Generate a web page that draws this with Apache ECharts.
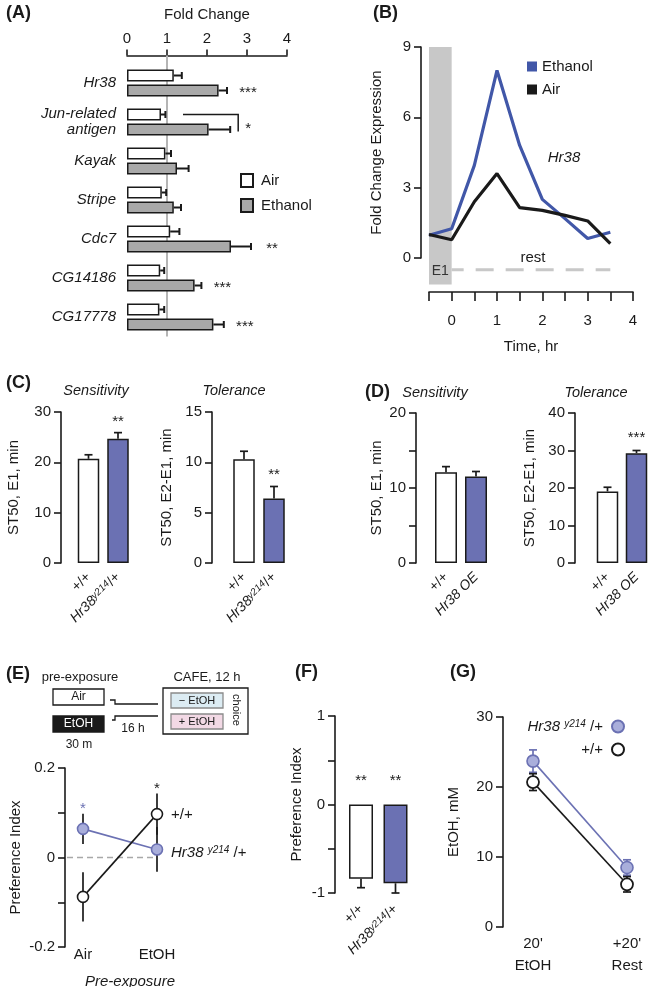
<!DOCTYPE html>
<html><head><meta charset="utf-8">
<script src="https://cdn.jsdelivr.net/npm/echarts@6/dist/echarts.min.js"></script>
<style>html,body{margin:0;padding:0;background:#fff}#chart{width:648px;height:987px}</style>
</head><body><div id="chart"></div>
<script>
// ---------------- DATA ----------------
// (A) qPCR fold change
const geneNames = ['Hr38', 'Jun-related\nantigen', 'Kayak', 'Stripe', 'Cdc7', 'CG14186', 'CG17778'];
const airFold = [1.17, 0.85, 0.96, 0.87, 1.08, 0.83, 0.81];
const airFoldErr = [0.20, 0.11, 0.14, 0.11, 0.23, 0.10, 0.12];
const ethanolFold = [2.29, 2.04, 1.25, 1.17, 2.60, 1.69, 2.16];
const ethanolFoldErr = [0.21, 0.54, 0.29, 0.18, 0.50, 0.17, 0.26];
const ethanolSig = ['***', '*', '', '', '**', '***', '***'];
const junBracket = [1, 1.4, 2.78];           // gene index, from, to (fold change)
const foldTicks = [0, 1, 2, 3, 4];
const foldBaseline = 1;
// (B) Hr38 time course
const timeHr = [-0.5, 0, 0.5, 1, 1.5, 2, 2.5, 3, 3.5];
const ethanolExpr = [0.97, 1.25, 3.95, 8.0, 4.8, 2.5, 1.68, 0.83, 1.1];
const airExpr = [1.0, 0.78, 2.4, 3.6, 2.15, 2.03, 1.82, 1.58, 0.61];
const exposureWindow = [-0.5, 0];
const restWindow = [0, 3.5];
const exprTicks = [0, 3, 6, 9];
const timeTicks = [-0.5, 4];
// (C) Hr38 y214 mutants
const genoC = ['+/+', 'Hr38^y214/+'];
const sensC = [20.7, 24.7], sensCErr = [0.8, 1.2], sensCSig = ['', '**'];
const tolC = [10.3, 6.4], tolCErr = [0.8, 1.2], tolCSig = ['', '**'];
// (D) Hr38 overexpression
const genoD = ['+/+', 'Hr38 OE'];
const sensD = [12.1, 11.55], sensDErr = [0.75, 0.65], sensDSig = ['', ''];
const tolD = [19.1, 29.3], tolDErr = [1.1, 0.7], tolDSig = ['', '***'];
// (E) preference after pre-exposure
const preExposure = ['Air', 'EtOH'];
const prefWT = [-0.088, 0.097], prefWTErr = [0.055, 0.046], prefWTSig = ['', '*'];
const prefHr = [0.064, 0.018], prefHrErr = [0.034, 0.05], prefHrSig = ['*', ''];
// (F) naive preference
const genoF = ['+/+', 'Hr38^y214/+'];
const prefF = [-0.84, -0.89], prefFErr = [0.10, 0.11], prefFSig = ['**', '**'];
// (G) internal ethanol
const etohTimes = ["20'\nEtOH", "+20'\nRest"];
const etohHr = [23.7, 8.5], etohHrErr = [1.6, 1.1];
const etohWT = [20.7, 6.1], etohWTErr = [1.2, 1.1];

// ---------------- STYLE ----------------
const FONT = 'Liberation Sans, Arial, Helvetica, sans-serif';
const INK = '#1a1a1a';
const BLUE_BAR = '#6b71b3';
const BLUE_LINE = '#4157a8';
const BLUE_DOT = '#a9aedb';
const GRAY_BAR = '#a9a9a9';
const BAND = '#c8c8c8';

function richSet(size) {
  return {
    n: {fontSize: size, color: INK, fontFamily: FONT},
    it: {fontSize: size, color: INK, fontFamily: FONT, fontStyle: 'italic'},
    sup: {fontSize: Math.round(size * 0.68), color: INK, fontFamily: FONT, fontStyle: 'italic', verticalAlign: 'top'}
  };
}
function genoRich(s, spaced) {
  const sp = spaced ? ' ' : '';
  if (s.indexOf('^') >= 0) {
    const parts = s.split('^');
    const m = parts[1].match(/^(\w+)(.*)$/);
    return '{it|' + parts[0] + sp + '}{sup|' + m[1] + '}{n|' + sp + m[2] + '}';
  }
  if (s.indexOf('Hr38') === 0) return '{it|' + s + '}';
  return '{n|' + s + '}';
}

const grid = [], xAxis = [], yAxis = [], series = [], legend = [], graphic = [];

function addText(x, y, text, o) {
  o = o || {};
  graphic.push({type: 'text', x: x, y: y, rotation: o.rotation || 0, silent: true, z: 100,
    style: {text: text, fill: o.color || INK, fontFamily: FONT, fontSize: o.size || 15,
      fontStyle: o.italic ? 'italic' : 'normal', fontWeight: o.bold ? 'bold' : 'normal',
      align: o.align || 'center', verticalAlign: o.valign || 'middle', rich: o.rich}});
}
function addRect(x, y, w, h, fill, stroke) {
  graphic.push({type: 'rect', silent: true, shape: {x: x, y: y, width: w, height: h},
    style: {fill: fill, stroke: stroke, lineWidth: 1.3}});
}
function addPoly(points) {
  graphic.push({type: 'polyline', silent: true, shape: {points: points}, style: {stroke: INK, lineWidth: 1.3, fill: null}});
}

function valAxis(gi, o) {
  return {gridIndex: gi, type: 'value', min: o.min, max: o.max, interval: o.interval, offset: o.offset || 0,
    axisLine: {show: true, onZero: false, lineStyle: {color: INK, width: 1.6}},
    axisTick: {show: true, length: 7, lineStyle: {color: INK, width: 1.6}},
    axisLabel: {fontSize: 15, color: INK, fontFamily: FONT, margin: 10, formatter: o.fmt, showMinLabel: true, showMaxLabel: true},
    splitLine: {show: false},
    name: o.name, nameLocation: 'middle', nameGap: o.nameGap, nameMoveOverlap: false,
    nameTextStyle: {fontSize: 15, color: INK, fontFamily: FONT}};
}

// vertical error bar renderer
function vErr(sig, starGap, capW, color, oneSided, starColor) {
  return function (params, api) {
    const cat = api.value(0), v = api.value(1), e = api.value(2);
    const dir = v >= 0 ? 1 : -1;
    const top = api.coord([cat, v + dir * e]);
    const base = api.coord([cat, oneSided ? v : v - dir * e]);
    const st = {stroke: color, lineWidth: 1.7};
    const ch = [{type: 'line', shape: {x1: top[0], y1: base[1], x2: top[0], y2: top[1]}, style: st}];
    if (capW) {
      ch.push({type: 'line', shape: {x1: top[0] - capW / 2, y1: top[1], x2: top[0] + capW / 2, y2: top[1]}, style: st});
      if (!oneSided) ch.push({type: 'line', shape: {x1: top[0] - capW / 2, y1: base[1], x2: top[0] + capW / 2, y2: base[1]}, style: st});
    }
    const s = sig ? sig[params.dataIndex] : '';
    if (s) {
      const ay = dir > 0 ? top[1] : api.coord([cat, 0])[1];
      ch.push({type: 'text', x: top[0], y: ay - starGap,
        style: {text: s, fill: starColor || INK, fontSize: 15, fontFamily: FONT, align: 'center', verticalAlign: 'middle'}});
    }
    return {type: 'group', children: ch};
  };
}

function barPanel(o) {
  const gi = grid.push({left: o.left, top: o.top, width: o.width, height: o.height, outerBoundsMode: 'none'}) - 1;
  const xi = xAxis.push({gridIndex: gi, type: 'category', data: o.cats,
    axisLine: {show: false}, axisTick: {show: false},
    axisLabel: {rotate: 45, margin: o.labelMargin || 12, interval: 0, formatter: function (v) { return genoRich(v, false); }, rich: richSet(14)}}) - 1;
  const yi = yAxis.push(valAxis(gi, o)) - 1;
  series.push({type: 'bar', xAxisIndex: xi, yAxisIndex: yi, barWidth: o.barWidth, z: 2,
    data: o.vals.map(function (v, i) { return {value: v, itemStyle: {color: o.colors[i]}}; }),
    itemStyle: {borderColor: INK, borderWidth: 1.5}});
  series.push({type: 'custom', xAxisIndex: xi, yAxisIndex: yi, z: 3, clip: false,
    data: o.vals.map(function (v, i) { return [i, v, o.errs[i]]; }), encode: {x: 0, y: 1},
    renderItem: vErr(o.sig, o.starGap, 8, INK, true)});
  if (o.title) addText(o.titleX, o.titleY, o.title, {italic: true, size: 14.5});
}

// ---------------- PANEL A ----------------
const gA = grid.push({left: 127, top: 63.5, width: 160, height: 273, outerBoundsMode: 'none'}) - 1;
const xA = xAxis.push({gridIndex: gA, type: 'value', min: foldTicks[0], max: foldTicks[foldTicks.length - 1], interval: 1,
  position: 'top', offset: 8,
  axisLine: {show: true, onZero: false, lineStyle: {color: INK, width: 1.6}},
  axisTick: {show: true, length: 6, lineStyle: {color: INK, width: 1.6}},
  axisLabel: {fontSize: 15, color: INK, fontFamily: FONT, margin: 9},
  splitLine: {show: false},
  name: 'Fold Change', nameLocation: 'middle', nameGap: 33, nameMoveOverlap: false,
  nameTextStyle: {fontSize: 15, color: INK, fontFamily: FONT}}) - 1;
const yA = yAxis.push({gridIndex: gA, type: 'category', data: geneNames, inverse: true,
  axisLine: {show: false}, axisTick: {show: false},
  axisLabel: {fontSize: 15, fontStyle: 'italic', color: INK, fontFamily: FONT, margin: 11, lineHeight: 16, interval: 0}}) - 1;
const A_BW = 12, A_GAP = 3, A_OFF = (A_BW + A_GAP) / 2;
series.push({type: 'custom', xAxisIndex: xA, yAxisIndex: yA, z: 1, data: [[foldBaseline, 0]], encode: {x: 0, y: 1},
  renderItem: function (params, api) {
    const cs = params.coordSys; const p = api.coord([api.value(0), 0]);
    return {type: 'line', shape: {x1: p[0], y1: cs.y - 8, x2: p[0], y2: cs.y + cs.height}, style: {stroke: '#b5b5b5', lineWidth: 2}};
  }});
series.push({name: 'Air', type: 'bar', xAxisIndex: xA, yAxisIndex: yA, data: airFold, barWidth: A_BW, barGap: '25%', z: 3,
  itemStyle: {color: '#fff', borderColor: INK, borderWidth: 1.5}});
series.push({name: 'Ethanol', type: 'bar', xAxisIndex: xA, yAxisIndex: yA, data: ethanolFold, barWidth: A_BW, barGap: '25%', z: 3,
  itemStyle: {color: GRAY_BAR, borderColor: INK, borderWidth: 1.5}});
function hErr(errs, sig, offset) {
  return function (params, api) {
    const i = params.dataIndex, v = api.value(0), cat = api.value(1), e = errs[i];
    const p0 = api.coord([v, cat]), p1 = api.coord([v + e, cat]);
    const y = p0[1] + offset;
    const st = {stroke: INK, lineWidth: 2};
    const ch = [{type: 'line', shape: {x1: p0[0], y1: y, x2: p1[0], y2: y}, style: st},
      {type: 'line', shape: {x1: p1[0], y1: y - 3.5, x2: p1[0], y2: y + 3.5}, style: st}];
    const s = sig ? sig[i] : '';
    if (s) {
      let tx = p1[0] + 21, ty = y + 2;
      if (junBracket[0] === i) { tx = api.coord([junBracket[2], cat])[0] + 10; ty = p0[1] + 7; }
      ch.push({type: 'text', x: tx, y: ty, style: {text: s, fill: INK, fontSize: 15, fontFamily: FONT, align: 'center', verticalAlign: 'middle'}});
    }
    return {type: 'group', children: ch};
  };
}
series.push({type: 'custom', xAxisIndex: xA, yAxisIndex: yA, z: 4, clip: false, encode: {x: 0, y: 1},
  data: airFold.map(function (v, i) { return [v, i]; }), renderItem: hErr(airFoldErr, null, -A_OFF)});
series.push({type: 'custom', xAxisIndex: xA, yAxisIndex: yA, z: 4, clip: false, encode: {x: 0, y: 1},
  data: ethanolFold.map(function (v, i) { return [v, i]; }), renderItem: hErr(ethanolFoldErr, ethanolSig, A_OFF)});
series.push({type: 'custom', xAxisIndex: xA, yAxisIndex: yA, z: 4, clip: false, encode: {x: [1, 2], y: 0},
  data: [junBracket], renderItem: function (params, api) {
    const cat = api.value(0);
    const a = api.coord([api.value(1), cat]), b = api.coord([api.value(2), cat]);
    return {type: 'polyline', shape: {points: [[a[0], a[1] - A_OFF], [b[0], a[1] - A_OFF], [b[0], a[1] + A_OFF + 2]]},
      style: {stroke: INK, lineWidth: 1.5, fill: null}};
  }});
legend.push({data: [{name: 'Air', icon: 'rect'}, {name: 'Ethanol', icon: 'rect'}], orient: 'vertical', left: 235, top: 168,
  itemWidth: 12, itemHeight: 13, itemGap: 10,
  selectedMode: false, textStyle: {fontSize: 15, color: INK, fontFamily: FONT, padding: [0, 0, 0, 3]}});

// ---------------- PANEL B ----------------
const gB = grid.push({left: 429, top: 47, width: 204, height: 211, outerBoundsMode: 'none'}) - 1;
const xB = xAxis.push({gridIndex: gB, type: 'value', min: timeTicks[0], max: timeTicks[1], interval: 0.5, position: 'bottom', offset: 34,
  axisLine: {show: true, onZero: false, lineStyle: {color: INK, width: 1.6}},
  axisTick: {show: true, length: 9, lineStyle: {color: INK, width: 1.6}},
  axisLabel: {fontSize: 15, color: INK, fontFamily: FONT, margin: 21, formatter: function (v) { return Number.isInteger(v) ? String(v) : ''; }},
  splitLine: {show: false},
  name: 'Time, hr', nameLocation: 'middle', nameGap: 47, nameMoveOverlap: false,
  nameTextStyle: {fontSize: 15, color: INK, fontFamily: FONT}}) - 1;
const yB = yAxis.push(valAxis(gB, {min: exprTicks[0], max: exprTicks[exprTicks.length - 1], interval: 3, offset: 8,
  name: 'Fold Change Expression', nameGap: 37})) - 1;
series.push({type: 'custom', xAxisIndex: xB, yAxisIndex: yB, z: 0, clip: false, encode: {x: [0, 1]},
  data: [exposureWindow], renderItem: function (params, api) {
    const p0 = api.coord([api.value(0), exprTicks[exprTicks.length - 1]]);
    const p1 = api.coord([api.value(1), -1.13]);
    const t = api.coord([(api.value(0) + api.value(1)) / 2, -0.58]);
    return {type: 'group', children: [
      {type: 'rect', shape: {x: p0[0], y: p0[1], width: p1[0] - p0[0], height: p1[1] - p0[1]}, style: {fill: BAND}},
      {type: 'text', x: t[0], y: t[1], style: {text: 'E1', fill: '#333', fontSize: 14, fontFamily: FONT, align: 'center', verticalAlign: 'middle'}}]};
  }});
series.push({type: 'custom', xAxisIndex: xB, yAxisIndex: yB, z: 0, clip: false, encode: {x: [0, 1]},
  data: [restWindow], renderItem: function (params, api) {
    const p0 = api.coord([api.value(0), -0.5]), p1 = api.coord([api.value(1), -0.5]);
    return {type: 'group', children: [
      {type: 'line', shape: {x1: p0[0], y1: p0[1], x2: p1[0], y2: p1[1]}, style: {stroke: BAND, lineWidth: 3, lineDash: [18, 12], lineDashOffset: 6}},
      {type: 'text', x: (p0[0] + p1[0]) / 2 + 2, y: p0[1] - 12, style: {text: 'rest', fill: INK, fontSize: 15, fontFamily: FONT, align: 'center', verticalAlign: 'middle'}}]};
  }});
series.push({name: 'B-Ethanol', type: 'line', xAxisIndex: xB, yAxisIndex: yB, z: 3, showSymbol: false, symbol: 'none',
  data: timeHr.map(function (t, i) { return [t, ethanolExpr[i]]; }),
  itemStyle: {color: BLUE_LINE}, lineStyle: {color: BLUE_LINE, width: 3.2}});
series.push({name: 'B-Air', type: 'line', xAxisIndex: xB, yAxisIndex: yB, z: 4, showSymbol: false, symbol: 'none',
  data: timeHr.map(function (t, i) { return [t, airExpr[i]]; }),
  itemStyle: {color: INK}, lineStyle: {color: INK, width: 3.2}});
legend.push({data: [{name: 'B-Ethanol', icon: 'rect'}, {name: 'B-Air', icon: 'rect'}], orient: 'vertical', left: 522, top: 54,
  itemWidth: 10, itemHeight: 10, itemGap: 8, selectedMode: false,
  formatter: function (n) { return n.slice(2); },
  textStyle: {fontSize: 15, color: INK, fontFamily: FONT}});
addText(564, 158, 'Hr38', {italic: true});

// ---------------- PANEL C ----------------
barPanel({left: 73.75, top: 412, width: 59, height: 151, offset: 12.75, min: 0, max: 30, interval: 10,
  name: 'ST50, E1, min', nameGap: 40, cats: genoC, vals: sensC, errs: sensCErr, sig: sensCSig,
  colors: ['#fff', BLUE_BAR], barWidth: 21.5, starGap: 11, title: 'Sensitivity', titleX: 96, titleY: 391});
barPanel({left: 229, top: 412, width: 60, height: 151, offset: 17, min: 0, max: 15, interval: 5,
  name: 'ST50, E2-E1, min', nameGap: 38, cats: genoC, vals: tolC, errs: tolCErr, sig: tolCSig,
  colors: ['#fff', BLUE_BAR], barWidth: 21.5, starGap: 12, title: 'Tolerance', titleX: 234, titleY: 391});
// ---------------- PANEL D ----------------
barPanel({left: 431, top: 413, width: 60, height: 150, offset: 15, min: 0, max: 20, interval: 5,
  fmt: function (v) { return v % 10 === 0 ? String(v) : ''; },
  name: 'ST50, E1, min', nameGap: 32, cats: genoD, vals: sensD, errs: sensDErr, sig: sensDSig,
  colors: ['#fff', BLUE_BAR], barWidth: 22, starGap: 13, title: 'Sensitivity', titleX: 435, titleY: 393});
barPanel({left: 593, top: 413, width: 58, height: 150, offset: 18, min: 0, max: 40, interval: 10,
  name: 'ST50, E2-E1, min', nameGap: 38, cats: genoD, vals: tolD, errs: tolDErr, sig: tolDSig,
  colors: ['#fff', BLUE_BAR], barWidth: 21.5, starGap: 13, title: 'Tolerance', titleX: 596, titleY: 393});

// ---------------- PANEL E ----------------
addText(80, 677, 'pre-exposure', {size: 13});
addRect(53, 689, 51, 16, '#fff', INK); addText(78.5, 697, 'Air', {size: 12});
addRect(53, 716, 51, 16, '#1a1a1a', '#1a1a1a'); addText(78.5, 724, 'EtOH', {size: 12, color: '#fff'});
addText(79, 745, '30 m', {size: 12});
addPoly([[110, 700], [115, 700], [115, 704], [158, 704]]);
addPoly([[112, 720], [115, 720], [115, 716], [158, 716]]);
addText(133, 729, '16 h', {size: 12});
addText(207, 677, 'CAFE, 12 h', {size: 13});
addRect(163, 688, 85, 46, '#fff', INK);
addRect(171, 693, 52, 15, '#dcecf3', '#8a8a8a'); addText(197, 700.5, '\u2212 EtOH', {size: 11});
addRect(171, 714, 52, 15, '#f2d9e5', '#8a8a8a'); addText(197, 721.5, '+ EtOH', {size: 11});
addText(236, 710, 'choice', {size: 11, rotation: -Math.PI / 2});

const gE = grid.push({left: 83, top: 768, width: 74, height: 179, outerBoundsMode: 'none'}) - 1;
const xE = xAxis.push({gridIndex: gE, type: 'category', data: preExposure, boundaryGap: false,
  axisLine: {show: false}, axisTick: {show: false},
  axisLabel: {fontSize: 15, color: INK, fontFamily: FONT, margin: 0, interval: 0},
  name: 'Pre-exposure', nameLocation: 'middle', nameGap: 27, nameMoveOverlap: false,
  nameTextStyle: {fontSize: 15, color: INK, fontFamily: FONT, fontStyle: 'italic', padding: [0, 0, 0, 20]}}) - 1;
const yE = yAxis.push(valAxis(gE, {min: -0.2, max: 0.2, interval: 0.1, offset: 18,
  fmt: function (v) { const r = Math.round(v * 10); return r % 2 === 0 ? (r === 0 ? '0' : (r / 10).toFixed(1)) : ''; },
  name: 'Preference Index', nameGap: 42})) - 1;
series.push({type: 'custom', xAxisIndex: xE, yAxisIndex: yE, z: 0, encode: {x: 0, y: 1}, data: [[0, 0]],
  renderItem: function (params, api) {
    const cs = params.coordSys; const p = api.coord([0, api.value(1)]);
    return {type: 'line', shape: {x1: cs.x - 16, y1: p[1], x2: cs.x + cs.width, y2: p[1]}, style: {stroke: '#a8a8a8', lineWidth: 1.5, lineDash: [6, 4]}};
  }});
series.push({type: 'custom', xAxisIndex: xE, yAxisIndex: yE, z: 1, clip: false, encode: {x: 0, y: 1},
  data: prefWT.map(function (v, i) { return [i, v, prefWTErr[i]]; }), renderItem: vErr(prefWTSig, 4.5, 0, INK, false)});
series.push({type: 'custom', xAxisIndex: xE, yAxisIndex: yE, z: 1, clip: false, encode: {x: 0, y: 1},
  data: prefHr.map(function (v, i) { return [i, v, prefHrErr[i]]; }), renderItem: vErr(prefHrSig, 5, 0, INK, false, BLUE_BAR)});
series.push({name: 'E-wt', type: 'line', xAxisIndex: xE, yAxisIndex: yE, z: 3, data: prefWT, symbol: 'circle', symbolSize: 11,
  itemStyle: {color: '#fff', borderColor: INK, borderWidth: 1.6}, lineStyle: {color: INK, width: 1.6},
  endLabel: {show: true, formatter: function () { return genoRich('+/+', true); }, distance: 14, offset: [0, 1], rich: richSet(15)}});
series.push({name: 'E-hr', type: 'line', xAxisIndex: xE, yAxisIndex: yE, z: 2, data: prefHr, symbol: 'circle', symbolSize: 11,
  itemStyle: {color: BLUE_DOT, borderColor: BLUE_BAR, borderWidth: 1.6}, lineStyle: {color: BLUE_BAR, width: 1.6},
  endLabel: {show: true, formatter: function () { return genoRich('Hr38^y214/+', true); }, distance: 14, offset: [0, 3], rich: richSet(15)}});

// ---------------- PANEL F ----------------
barPanel({left: 343.75, top: 716, width: 69, height: 177, offset: 8.75, min: -1, max: 1, interval: 0.5,
  fmt: function (v) { return Number.isInteger(v) ? String(v) : ''; },
  name: 'Preference Index', nameGap: 31, cats: genoF, vals: prefF, errs: prefFErr, sig: prefFSig,
  colors: ['#fff', BLUE_BAR], barWidth: 24, starGap: 24, labelMargin: 14});

// ---------------- PANEL G ----------------
const gG = grid.push({left: 533, top: 717, width: 94, height: 210, outerBoundsMode: 'none'}) - 1;
const xG = xAxis.push({gridIndex: gG, type: 'category', data: etohTimes, boundaryGap: false,
  axisLine: {show: false}, axisTick: {show: false},
  axisLabel: {fontSize: 15, color: INK, fontFamily: FONT, margin: 6, lineHeight: 22, interval: 0}}) - 1;
const yG = yAxis.push(valAxis(gG, {min: 0, max: 30, interval: 10, offset: 30, name: 'EtOH, mM', nameGap: 42})) - 1;
series.push({type: 'custom', xAxisIndex: xG, yAxisIndex: yG, z: 1, clip: false, encode: {x: 0, y: 1},
  data: etohHr.map(function (v, i) { return [i, v, etohHrErr[i]]; }), renderItem: vErr(null, 0, 8, BLUE_BAR, false)});
series.push({type: 'custom', xAxisIndex: xG, yAxisIndex: yG, z: 1, clip: false, encode: {x: 0, y: 1},
  data: etohWT.map(function (v, i) { return [i, v, etohWTErr[i]]; }), renderItem: vErr(null, 0, 8, INK, false)});
series.push({name: 'G-hr', type: 'line', xAxisIndex: xG, yAxisIndex: yG, z: 2, data: etohHr, symbol: 'circle', symbolSize: 12,
  itemStyle: {color: BLUE_DOT, borderColor: BLUE_BAR, borderWidth: 1.6}, lineStyle: {color: BLUE_BAR, width: 1.6}});
series.push({name: 'G-wt', type: 'line', xAxisIndex: xG, yAxisIndex: yG, z: 3, data: etohWT, symbol: 'circle', symbolSize: 12,
  itemStyle: {color: '#fff', borderColor: INK, borderWidth: 1.8}, lineStyle: {color: INK, width: 1.6}});
legend.push({data: [{name: 'G-hr', icon: 'circle'}, {name: 'G-wt', icon: 'circle'}], orient: 'vertical', right: 18, top: 714,
  align: 'right', itemWidth: 12, itemHeight: 12, itemGap: 8, selectedMode: false,
  formatter: function (n) { return n === 'G-hr' ? genoRich('Hr38^y214/+', true) : genoRich('+/+', true); },
  textStyle: {fontSize: 15, color: INK, fontFamily: FONT, rich: richSet(15), padding: [0, 4, 0, 0]}});

// ---------------- PANEL LABELS ----------------
addText(6, 13, '(A)', {bold: true, size: 18, align: 'left'});
addText(373, 13, '(B)', {bold: true, size: 18, align: 'left'});
addText(6, 383, '(C)', {bold: true, size: 18, align: 'left'});
addText(365, 392, '(D)', {bold: true, size: 18, align: 'left'});
addText(6, 674, '(E)', {bold: true, size: 18, align: 'left'});
addText(295, 672, '(F)', {bold: true, size: 18, align: 'left'});
addText(450, 672, '(G)', {bold: true, size: 18, align: 'left'});

const chart = echarts.init(document.getElementById('chart'), null, {renderer: 'canvas'});
chart.setOption({
  animation: false,
  backgroundColor: '#fff',
  textStyle: {fontFamily: FONT},
  grid: grid, xAxis: xAxis, yAxis: yAxis, series: series, legend: legend, graphic: graphic
});
</script></body></html>
